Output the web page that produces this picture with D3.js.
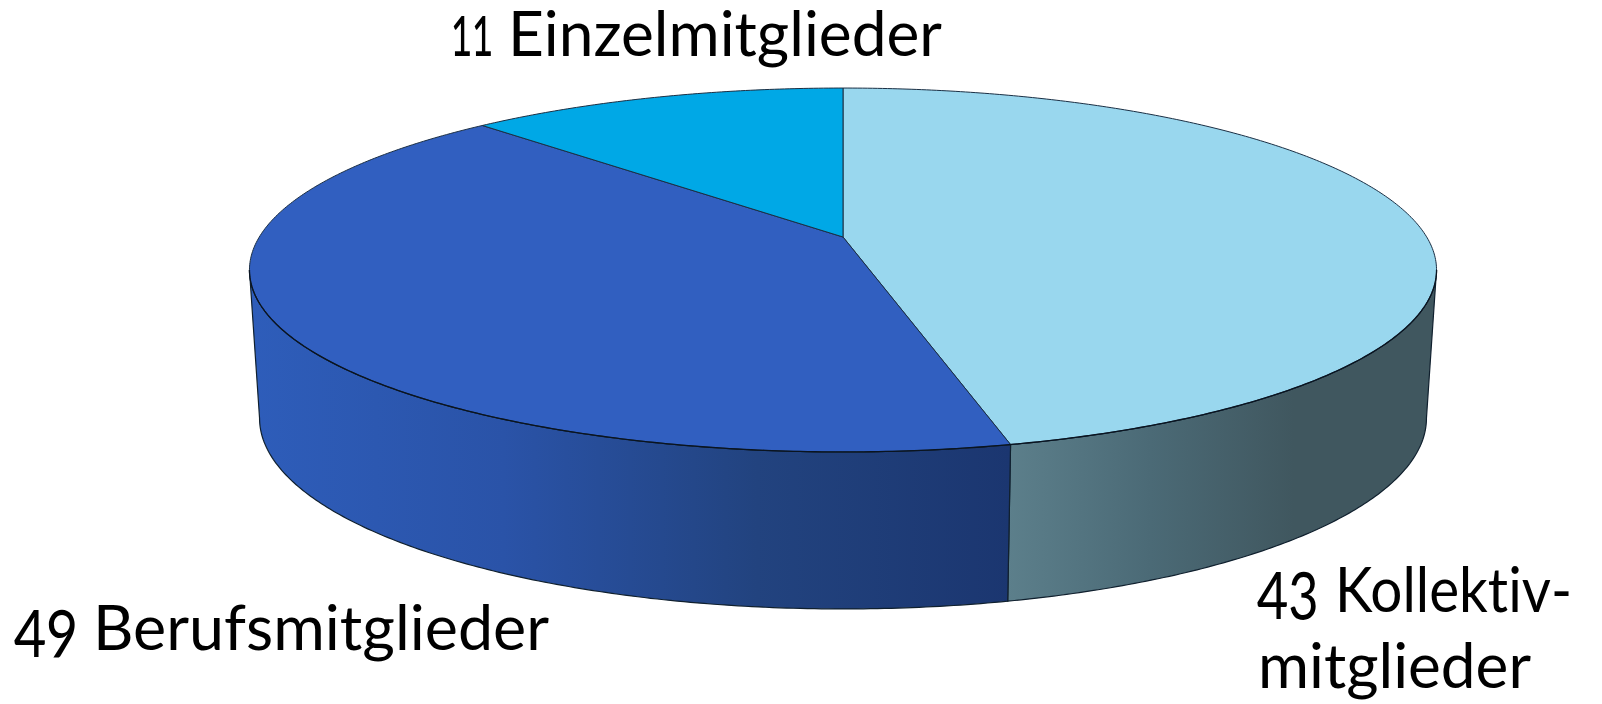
<!DOCTYPE html>
<html>
<head>
<meta charset="utf-8">
<script src="https://cdnjs.cloudflare.com/ajax/libs/d3/7.8.5/d3.min.js"></script>
<style>
html, body { margin: 0; padding: 0; background: #fff; }
svg { display: block; }
text {
  font-family: Lato, "Open Sans", sans-serif;
  font-size: 62.5px;
  font-variant-numeric: oldstyle-nums;
  font-variant-ligatures: none;
  fill: #000;
}
text.num { font-size: 72px; }
</style>
</head>
<body>
<script>

var categories = ["Kollektivmitglieder", "Berufsmitglieder", "Einzelmitglieder"];
// the counts printed in the labels
var counts = [43, 49, 11];
// wedge shares as measured on the picture, in percent (the drawn wedges do not follow the counts exactly)
var wedgeShares = [46.2, 41.5, 12.3];
var topColors = ["#99d7ee", "#315fc0", "#00a8e6"];
var wallStops = [
  ["#5c7f8b", "#4b6a76", "#40575f", "#40575f"],
  ["#2e5dba", "#2a53a8", "#22437f", "#1b3670"],
  ["#00a8e6", "#00a8e6", "#00a8e6", "#00a8e6"]
];
// label pieces: text, left edge, baseline, drawn width
var labelTexts = ["43", "Kollektiv-", "mitglieder", "49", "Berufsmitglieder", "11", "Einzelmitglieder"];
var labelLeft = [1257, 1335, 1258, 14, 93, 451, 508];
var labelBase = [612, 612, 688, 650, 650, 56, 56];
var labelWidth = [62, 237, 273, 64, 456, 42, 434];

var width = 1602, height = 704;

var svg = d3.select("body").append("svg")
    .attr("width", width)
    .attr("height", height);

var pie = d3.pie().sort(null).value(function(d) { return d; });
var arcs = pie(wedgeShares);

// perspective of the disc
var cx = 843, cy = 237, radius = 583.7;
var persp = -0.1813, ky = 133;
// the lower rim is the upper rim, pulled in a little and pushed down
var bottomX = d3.scaleLinear().domain([cx - 100, cx + 100]).range([cx - 98.3, cx + 98.3]);
var bottomY = d3.scaleLinear().domain([265, 452]).range([413, 609]);

function rimTop(a) {
  var px = Math.sin(a), py = -Math.cos(a);
  var w = 1 + persp * py;
  return [cx + radius * px / w, (ky * py + cy) / w];
}

function rimBottom(a) {
  var p = rimTop(a);
  return [bottomX(p[0]), bottomY(p[1])];
}

function sweep(a0, a1) {
  var n = Math.max(2, Math.ceil(Math.abs(a1 - a0) / 0.01));
  return d3.range(n + 1).map(function(i) { return a0 + (a1 - a0) * i / n; });
}

var line = d3.line();

// where the wall silhouette starts and ends
var wallStart = Math.acos(persp);
var wallEnd = 2 * Math.PI - wallStart;

var defs = svg.append("defs");
wallStops.forEach(function(stops, i) {
  var g = defs.append("linearGradient")
      .attr("id", "wall" + i)
      .attr("x1", 0).attr("x2", 1).attr("y1", 0).attr("y2", 0);
  stops.forEach(function(c, j) {
    g.append("stop")
        .attr("offset", j / (stops.length - 1))
        .attr("stop-color", c);
  });
});

// walls
arcs.forEach(function(d, i) {
  var a0 = Math.max(d.startAngle, wallStart);
  var a1 = Math.min(d.endAngle, wallEnd);
  if (a1 <= a0) return;
  var upper = sweep(a0, a1).map(rimTop);
  var lower = sweep(a1, a0).map(rimBottom);
  svg.append("path")
      .attr("d", line(upper.concat(lower)) + "Z")
      .attr("fill", "url(#wall" + i + ")")
      .attr("stroke", "#10202e")
      .attr("stroke-width", 1.2)
      .attr("stroke-linejoin", "round");
});

// top of the disc
arcs.forEach(function(d, i) {
  var pts = [[cx, cy]].concat(sweep(d.startAngle, d.endAngle).map(rimTop));
  svg.append("path")
      .attr("d", line(pts) + "Z")
      .attr("fill", topColors[i])
      .attr("stroke", "#1b2f44")
      .attr("stroke-width", 1)
      .attr("stroke-linejoin", "round");
});

// front edge of the top is darker
svg.append("path")
    .attr("d", line(sweep(wallStart, wallEnd).map(rimTop)))
    .attr("fill", "none")
    .attr("stroke", "#0a1420")
    .attr("stroke-width", 1.3);

// labels
labelTexts.forEach(function(t, i) {
  svg.append("text")
      .attr("class", isNaN(+t) ? "word" : "num")
      .attr("x", labelLeft[i])
      .attr("y", labelBase[i])
      .attr("textLength", labelWidth[i])
      .attr("lengthAdjust", "spacingAndGlyphs")
      .text(t);
});

</script>
</body>
</html>
